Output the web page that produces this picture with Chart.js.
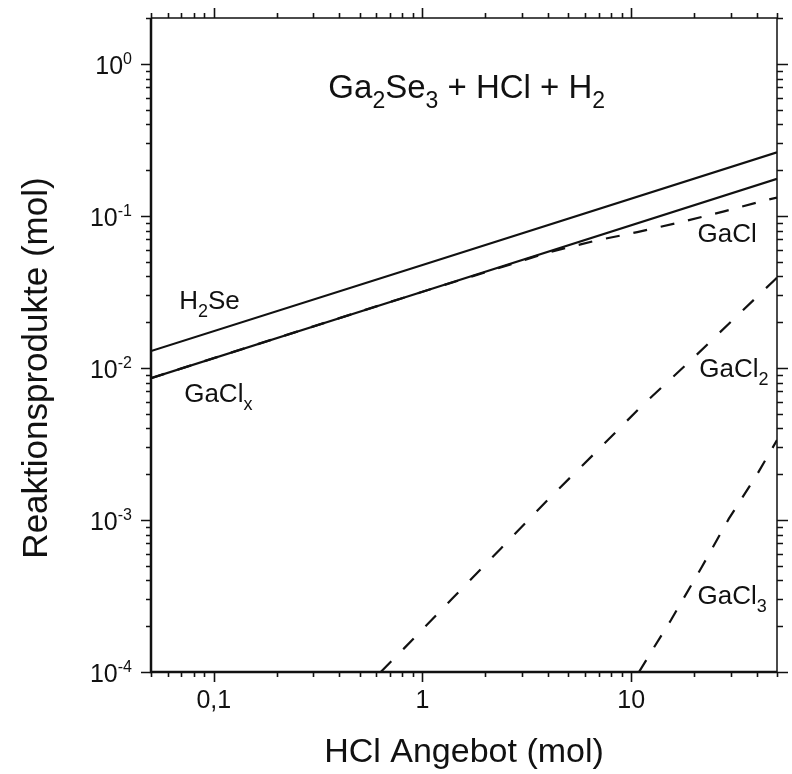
<!DOCTYPE html>
<html>
<head>
<meta charset="utf-8">
<script src="https://cdn.jsdelivr.net/npm/chart.js@4/dist/chart.umd.min.js"></script>
<style>
  html, body { margin: 0; padding: 0; background: #fff; }
  canvas { display: block; }
</style>
</head>
<body>
<canvas id="chart" width="792" height="774"></canvas>
<script>
// values (HCl supply in mol vs. reaction products in mol)
const h2seX = [0.05, 1, 50];
const h2seY = [0.0129, 0.0475, 0.262];
const gaclxX = [0.05, 1, 50];
const gaclxY = [0.00857, 0.0317, 0.175];
const gaclX = [0.05, 1, 2, 3.97, 6.64, 10.7, 17.3, 27.9, 45, 50];
const gaclY = [0.00857, 0.0317, 0.0425, 0.0572, 0.0683, 0.0782, 0.0909, 0.107, 0.1276, 0.132];
const gacl2X = [0.631, 0.816, 1.39, 2.37, 3.97, 6.77, 11.3, 19.7, 32.3, 48.4, 50];
const gacl2Y = [1e-4, 1.43e-4, 3.04e-4, 6.47e-4, 1.35e-3, 2.79e-3, 5.66e-3, 0.0115, 0.0221, 0.0376, 0.0393];
const gacl3X = [10.9, 12.9, 15.5, 21.6, 29.4, 40.3, 50];
const gacl3Y = [1e-4, 1.46e-4, 2.19e-4, 4.79e-4, 1.02e-3, 2.01e-3, 3.35e-3];

const xTickValues = [0.1, 1, 10];
const xTickLabels = ["0,1", "1", "10"];
const yTickValues = [1e-4, 1e-3, 1e-2, 1e-1, 1];
const yTickExps = ["-4", "-3", "-2", "-1", "0"];

const xMin = 0.05, xMax = 50, yMin = 1e-4, yMax = 2;

const FONT = "'Liberation Sans', Arial, Helvetica, sans-serif";

const toPoints = (xs, ys) => xs.map((v, i) => ({ x: v, y: ys[i] }));

// rich text: segments {t, size, dy}
function drawRich(ctx, segs, x, y, align) {
  let w = 0;
  segs.forEach((s) => {
    ctx.font = s.size + "px " + FONT;
    s.w = ctx.measureText(s.t).width;
    w += s.w;
  });
  let cx = align === "center" ? x - w / 2 : align === "right" ? x - w : x;
  ctx.textAlign = "left";
  ctx.textBaseline = "alphabetic";
  segs.forEach((s) => {
    ctx.font = s.size + "px " + FONT;
    ctx.fillText(s.t, cx, y + (s.dy || 0));
    cx += s.w;
  });
}

const label = (main, sub) => {
  const segs = [{ t: main, size: 26 }];
  if (sub) segs.push({ t: sub, size: 18, dy: 8 });
  return segs;
};

// chemistry labels, anchored in data coordinates
const annotations = [
  { x: 0.0682, y: 0.0245, segs: [{ t: "H", size: 26 }, { t: "2", size: 18, dy: 8 }, { t: "Se", size: 26 }] },
  { x: 0.0721, y: 0.00593, segs: label("GaCl", "x") },
  { x: 20.8, y: 0.0671, segs: label("GaCl") },
  { x: 21.2, y: 0.0087, segs: label("GaCl", "2") },
  { x: 20.8, y: 2.82e-4, segs: label("GaCl", "3") },
];

const framePlugin = {
  id: "frame",
  afterDraw(chart) {
    const { ctx, chartArea: a, scales } = chart;
    const sx = scales.x, sy = scales.y;
    ctx.save();
    ctx.strokeStyle = "#111";
    ctx.fillStyle = "#111";
    ctx.lineCap = "butt";

    // frame
    ctx.lineWidth = 2.5;
    ctx.beginPath();
    ctx.moveTo(a.left, a.top);
    ctx.lineTo(a.left, a.bottom);
    ctx.lineTo(a.right, a.bottom);
    ctx.stroke();
    ctx.lineWidth = 1.5;
    ctx.beginPath();
    ctx.moveTo(a.left, a.top);
    ctx.lineTo(a.right, a.top);
    ctx.lineTo(a.right, a.bottom);
    ctx.stroke();

    // ticks on all four sides, pointing out
    ctx.lineWidth = 1.6;
    ctx.beginPath();
    for (let k = -2; k <= 1; k++) {
      for (let m = 1; m <= 9; m++) {
        const v = m * Math.pow(10, k);
        if (v < xMin * 0.999 || v > xMax * 1.001) continue;
        const px = Math.round(sx.getPixelForValue(v)) + 0.5;
        const len = m === 1 ? 10 : 5;
        ctx.moveTo(px, a.bottom);
        ctx.lineTo(px, a.bottom + len);
        ctx.moveTo(px, a.top);
        ctx.lineTo(px, a.top - len);
      }
    }
    for (let k = -4; k <= 0; k++) {
      for (let m = 1; m <= 9; m++) {
        const v = m * Math.pow(10, k);
        if (v < yMin * 0.999 || v > yMax * 1.001) continue;
        const py = Math.round(sy.getPixelForValue(v)) + 0.5;
        const len = m === 1 ? 10 : 5;
        ctx.moveTo(a.left, py);
        ctx.lineTo(a.left - len, py);
        ctx.moveTo(a.right, py);
        ctx.lineTo(a.right + len + 1, py);
      }
    }
    ctx.stroke();

    // x tick labels
    ctx.font = "25px " + FONT;
    ctx.textAlign = "center";
    ctx.textBaseline = "alphabetic";
    xTickValues.forEach((v, i) => {
      ctx.fillText(xTickLabels[i], sx.getPixelForValue(v), a.bottom + 36);
    });

    // y tick labels 10^n
    yTickValues.forEach((v, i) => {
      const py = sy.getPixelForValue(v);
      drawRich(ctx, [{ t: "10", size: 25 }, { t: yTickExps[i], size: 16, dy: -10 }], a.left - 19, py + 10, "right");
    });

    // axis titles
    ctx.font = "34px " + FONT;
    ctx.textAlign = "center";
    ctx.fillText("HCl Angebot (mol)", (a.left + a.right) / 2, a.bottom + 90);
    ctx.save();
    ctx.translate(47, 368);
    ctx.rotate(-Math.PI / 2);
    ctx.font = "35px " + FONT;
    ctx.fillText("Reaktionsprodukte (mol)", 0, 0);
    ctx.restore();

    // title inside the plot
    drawRich(ctx, [
      { t: "Ga", size: 33 }, { t: "2", size: 23, dy: 10 },
      { t: "Se", size: 33 }, { t: "3", size: 23, dy: 10 },
      { t: " + HCl + H", size: 33 }, { t: "2", size: 23, dy: 10 },
    ], sx.getPixelForValue(1.63), sy.getPixelForValue(0.6), "center");

    annotations.forEach((an) => {
      drawRich(ctx, an.segs, sx.getPixelForValue(an.x), sy.getPixelForValue(an.y), "left");
    });
    ctx.restore();
  },
};

const lineStyle = {
  borderColor: "#111",
  borderWidth: 2.2,
  pointRadius: 0,
  fill: false,
  tension: 0,
};

new Chart(document.getElementById("chart").getContext("2d"), {
  type: "line",
  data: {
    datasets: [
      { label: "GaCl", data: toPoints(gaclX, gaclY), ...lineStyle, borderDash: [14, 14] },
      { label: "GaCl2", data: toPoints(gacl2X, gacl2Y), ...lineStyle, borderDash: [15, 17] },
      { label: "GaCl3", data: toPoints(gacl3X, gacl3Y), ...lineStyle, borderDash: [14, 15] },
      { label: "H2Se", data: toPoints(h2seX, h2seY), ...lineStyle },
      { label: "GaClx", data: toPoints(gaclxX, gaclxY), ...lineStyle },
    ],
  },
  options: {
    responsive: false,
    devicePixelRatio: 1,
    animation: false,
    layout: { padding: { left: 151, top: 18, right: 15, bottom: 102 } },
    plugins: { legend: { display: false }, tooltip: { enabled: false } },
    scales: {
      x: { type: "logarithmic", min: xMin, max: xMax, display: false },
      y: { type: "logarithmic", min: yMin, max: yMax, display: false },
    },
  },
  plugins: [framePlugin],
});
</script>
</body>
</html>
